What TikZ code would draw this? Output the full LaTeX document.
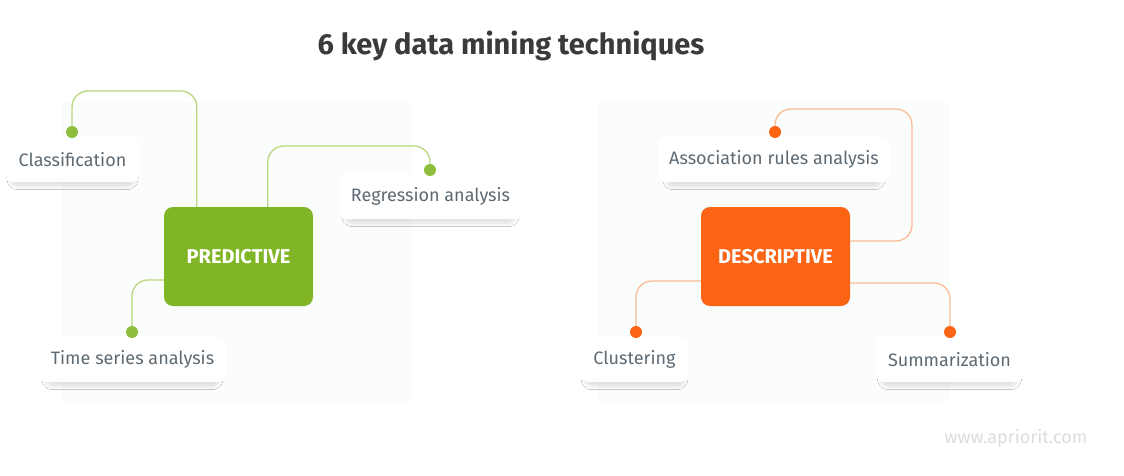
\documentclass[tikz,border=0pt]{standalone}
\usepackage{fontspec}
\setmainfont{Fira Sans}
\usetikzlibrary{calc,shadows.blur}
\definecolor{pgreen}{HTML}{80B626}
\definecolor{porange}{HTML}{FA6414}
\definecolor{lgreen}{HTML}{B8D87E}
\definecolor{lorange}{HTML}{F9BD98}
\definecolor{itemtext}{HTML}{5E6A73}
\definecolor{titletext}{HTML}{3A3A3A}
\definecolor{bgpanel}{HTML}{FBFCFC}
\definecolor{wmark}{HTML}{DDDDDD}
\tikzset{
  hub/.style={rounded corners=9pt, minimum width=149pt, minimum height=99pt, text=white,
    font=\fontsize{20}{24}\selectfont\bfseries, inner sep=0pt},
  item/.style={rounded corners=8pt, fill=white, minimum height=45pt, inner sep=0pt,
    text=itemtext, font=\fontsize{18}{21}\selectfont,
    blur shadow={shadow blur steps=8, shadow xshift=0pt, shadow yshift=-6pt, shadow scale=0.93,
      shadow opacity=13, shadow blur radius=4pt}},
  gdot/.style={circle, fill=pgreen!90!white, minimum size=12pt, inner sep=0pt},
  odot/.style={circle, fill=porange, minimum size=12pt, inner sep=0pt},
  gline/.style={draw=lgreen, line width=1.3pt, rounded corners=16pt},
  oline/.style={draw=lorange, line width=1.3pt, rounded corners=16pt},
}
\begin{document}
\begin{tikzpicture}[x=1pt,y=-1pt]
\useasboundingbox (0,0) rectangle (1124,476);
\fill[white] (0,0) rectangle (1124,476);
% faint panels
\fill[bgpanel] (62,102) rectangle (412,402);
\fill[bgpanel] (598,102) rectangle (950,402);

\node[font=\fontsize{29}{34}\selectfont\bfseries, text=titletext] (title) at (511,46) {6 key data mining techniques};

% hubs
\node[hub, fill=pgreen] (pred) at (238.5,256.5) {PREDICTIVE};
\node[hub, fill=porange] (desc) at (775.5,256.5) {DESCRIPTIVE};

% items
\node[item, minimum width=133pt] (cls) at (72.5,159.5) {Classification};
\node[item, minimum width=183pt] (reg) at (430.5,196.5) {Regression analysis};
\node[item, minimum width=187pt] (tsa) at (132.5,359.5) {Time series analysis};
\node[item, minimum width=232pt] (asr) at (774,159.5) {Association rules analysis};
\node[item, minimum width=107pt] (clu) at (634.5,359.5) {Clustering};
\node[item, minimum width=147pt] (sum) at (949.5,359.5) {Summarization};

% dot anchors
\coordinate (c1) at (72,132);
\coordinate (c2) at (430,170);
\coordinate (c3) at (132,332);
\coordinate (c4) at (775,132);
\coordinate (c5) at (636,332);
\coordinate (c6) at (950,332);

% connectors
\draw[gline] ($(pred.north west)+(33,0)$) |- ($(c1)+(0,-41)$) -- (c1);
\draw[gline] ($(pred.north west)+(104,0)$) |- ($(c2)+(0,-24)$) -- (c2);
\draw[gline] ($(pred.west)+(0,23.5)$) -| (c3);
\draw[oline] ($(desc.east)+(0,-15.5)$) -| ($(c4)+(137,-23)$) -| (c4);
\draw[oline] ($(desc.west)+(0,24.5)$) -| (c5);
\draw[oline] ($(desc.east)+(0,26.5)$) -| (c6);

% dots
\node[gdot] (d1) at (c1) {};
\node[gdot] (d2) at (c2) {};
\node[gdot] (d3) at (c3) {};
\node[odot] (d4) at (c4) {};
\node[odot] (d5) at (c5) {};
\node[odot] (d6) at (c6) {};

\node[text=wmark, font=\fontsize{18}{21}\selectfont] (wm) at (1016,438) {www.apriorit.com};
\end{tikzpicture}
\end{document}
